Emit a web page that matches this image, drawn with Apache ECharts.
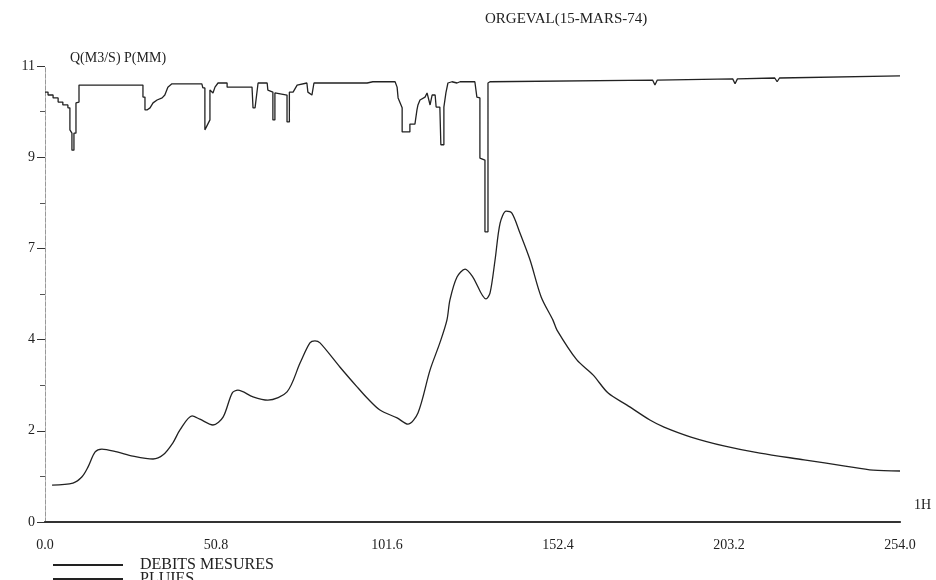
<!DOCTYPE html>
<html>
<head>
<meta charset="utf-8">
<title>ORGEVAL(15-MARS-74)</title>
<script src="https://cdn.jsdelivr.net/npm/echarts@6/dist/echarts.min.js"></script>
<style>
    html, body { margin: 0; padding: 0; background: #fff; }
    #main { width: 936px; height: 580px; }
</style>
</head>
<body>
<div id="main"></div>
<script>
    // temps en heures (1H) / debits en m3/s
    var debitsT = [2.1, 8.3, 11.0, 12.8, 14.9, 16.9, 21.4, 26.1, 32.1, 35.1, 38.0, 40.1, 43.7, 46.0, 49.9,
        52.9, 55.6, 57.3, 61.8, 66.2, 71.9, 75.8, 78.7, 80.2, 81.7, 87.6, 92.7, 95.7, 99.5, 104.6,
        107.8, 110.8, 114.4, 117.3, 119.4, 120.3, 122.4, 124.8, 127.1, 131.0, 132.2, 133.7, 135.2, 137.0, 138.7,
        141.1, 144.1, 147.4, 150.9, 152.1, 158.0, 162.8, 167.3, 172.9, 179.7, 183.9, 191.9, 202.0, 212.4,
        225.5, 237.7, 246.0, 254.0];
    var debitsQ = [0.89, 0.94, 1.09, 1.33, 1.69, 1.76, 1.69, 1.59, 1.52, 1.62, 1.91, 2.22, 2.56, 2.48, 2.34,
        2.53, 3.11, 3.18, 3.02, 2.94, 3.14, 3.84, 4.32, 4.37, 4.32, 3.74, 3.26, 2.99, 2.70, 2.51,
        2.36, 2.63, 3.67, 4.32, 4.87, 5.36, 5.91, 6.10, 5.91, 5.38, 5.52, 6.32, 7.21, 7.50, 7.45,
        6.97, 6.32, 5.43, 4.87, 4.63, 3.91, 3.55, 3.11, 2.82, 2.46, 2.29, 2.05, 1.83, 1.66,
        1.50, 1.35, 1.25, 1.23];

    // pluies (histogramme inverse, trace en escalier depuis le haut)
    var pluiesT = [0.0, 0.9, 0.9, 2.4, 2.4, 3.9, 3.9, 5.3, 5.3, 6.8, 6.8, 7.4, 7.4, 8.0, 8.0, 8.6, 8.6, 9.2, 9.2, 10.1, 10.1, 29.1,
        29.1, 29.7, 29.7, 30.3, 31.2, 32.1, 33.3, 34.8, 35.6, 36.5, 37.7, 46.6, 46.9,
        47.5, 47.5, 49.0, 49.0, 49.9, 50.5, 51.4, 54.1, 54.1, 61.5, 61.8,
        61.8, 62.4, 63.3, 66.0, 66.2, 67.7, 67.7, 68.3, 68.3, 71.9, 71.9, 72.6, 72.6, 73.7, 74.9, 77.8,
        78.1, 79.3, 79.9, 95.7, 96.0, 97.4,
        104.0, 104.6, 104.9, 106.1, 106.1, 108.4, 108.4, 109.9, 110.5, 110.8, 111.4, 112.9, 113.5, 113.8, 114.4,
        115.0, 115.9, 116.2, 117.3, 117.6, 118.5, 118.5, 119.1, 119.7, 120.9, 122.4, 123.3, 127.7, 128.3, 129.2,
        129.2, 130.7, 130.7, 131.6, 131.6, 132.2,
        180.5, 181.2, 181.9, 204.3, 205.0, 205.7, 216.8, 217.5, 218.2, 254.0];
    var pluiesP = [10.37, 10.37, 10.30, 10.30, 10.23, 10.23, 10.13, 10.13, 10.06, 10.06, 9.99, 9.99, 9.46, 9.38, 8.97, 8.97, 9.38, 9.38, 10.11, 10.13, 10.54, 10.54,
        10.25, 10.25, 9.94, 9.94, 9.99, 10.11, 10.18, 10.23, 10.30, 10.49, 10.57, 10.57, 10.47,
        10.47, 9.46, 9.70, 10.42, 10.35, 10.49, 10.59, 10.59, 10.49, 10.49, 10.47,
        9.99, 9.99, 10.59, 10.59, 10.42, 10.37, 9.70, 9.70, 10.35, 10.30, 9.65, 9.65, 10.37, 10.37, 10.54, 10.59,
        10.37, 10.30, 10.59, 10.59, 10.59, 10.62,
        10.62, 10.49, 10.23, 9.99, 9.41, 9.41, 9.60, 9.60, 9.94, 10.06, 10.18, 10.25, 10.35, 10.35, 10.06,
        10.30, 10.30, 10.01, 10.01, 9.10, 9.10, 10.01, 10.35, 10.59, 10.62, 10.59, 10.62, 10.62, 10.25, 10.23,
        8.78, 8.73, 7.00, 7.00, 10.59, 10.62,
        10.66, 10.54, 10.66, 10.69, 10.57, 10.69, 10.71, 10.62, 10.71, 10.76];

    var xTicks = [0, 50.8, 101.6, 152.4, 203.2, 254.0];
    var yMax = 11;
    var yStep = 2.2;

    var font = '"Liberation Serif", "DejaVu Serif", serif';
    var ink = '#222';

    function pairs(xs, ys) {
        var out = [];
        for (var i = 0; i < xs.length; i++) {
            out.push([xs[i], ys[i]]);
        }
        return out;
    }

    function legendAt(name, top) {
        return {
            left: 48,
            top: top,
            itemWidth: 70,
            itemHeight: 2,
            icon: 'rect',
            data: [name],
            textStyle: { fontFamily: font, fontSize: 16, color: ink, padding: [0, 0, 0, 12] }
        };
    }

    var option = {
        backgroundColor: '#fff',
        animation: false,
        title: {
            text: 'ORGEVAL(15-MARS-74)',
            left: 480,
            top: 7,
            textStyle: { fontFamily: font, fontSize: 15, fontWeight: 'normal', color: ink }
        },
        legend: [
            legendAt('DEBITS MESURES', 552),
            legendAt('PLUIES', 566)
        ],
        grid: {
            left: 45,
            right: 36,
            top: 66,
            bottom: 58
        },
        xAxis: [
            {
                type: 'value',
                min: 0,
                max: xTicks[xTicks.length - 1],
                interval: xTicks[1],
                name: '1H',
                nameLocation: 'end',
                nameGap: 14,
                nameTextStyle: { fontFamily: font, fontSize: 14, color: ink, verticalAlign: 'bottom', padding: [0, 0, 10, 0] },
                axisLine: { lineStyle: { color: '#333', width: 1.5 } },
                axisTick: { show: false },
                splitLine: { show: false },
                axisLabel: {
                    margin: 16,
                    fontFamily: font,
                    fontSize: 14,
                    color: ink,
                    formatter: function (v) { return v.toFixed(1); }
                }
            },
            {
                type: 'value',
                position: 'top',
                min: 0,
                max: xTicks[xTicks.length - 1],
                axisLine: { show: true, lineStyle: { color: '#333', width: 2 } },
                axisTick: { show: false },
                axisLabel: { show: false },
                splitLine: { show: false }
            }
        ],
        yAxis: [
            {
                type: 'value',
                min: 0,
                max: yMax,
                interval: yStep,
                name: 'Q(M3/S) P(MM)',
                nameLocation: 'end',
                nameGap: 1,
                nameTextStyle: { fontFamily: font, fontSize: 14, color: ink, align: 'left', padding: [0, 0, 0, 25] },
                axisLine: { show: true, lineStyle: { color: '#888', width: 1, type: 'dashed' } },
                axisTick: { show: true, length: 8, lineStyle: { color: '#333' } },
                minorTick: { show: true, splitNumber: 2, length: 5, lineStyle: { color: '#555' } },
                splitLine: { show: false },
                axisLabel: {
                    margin: 10,
                    fontFamily: font,
                    fontSize: 14,
                    color: ink,
                    formatter: function (v) { return Math.round(v); }
                }
            },
            {
                type: 'value',
                position: 'right',
                min: 0,
                max: yMax,
                axisLine: { show: true, lineStyle: { color: '#999', width: 1, type: 'dashed' } },
                axisTick: { show: false },
                axisLabel: { show: false },
                splitLine: { show: false }
            }
        ],
        series: [
            {
                name: 'DEBITS MESURES',
                type: 'line',
                data: pairs(debitsT, debitsQ),
                smooth: 0.3,
                showSymbol: false,
                color: ink,
                lineStyle: { color: ink, width: 1.3 }
            },
            {
                name: 'PLUIES',
                type: 'line',
                data: pairs(pluiesT, pluiesP),
                showSymbol: false,
                color: ink,
                lineStyle: { color: ink, width: 1.3 }
            }
        ]
    };

    var myChart = echarts.init(document.getElementById('main'));
    myChart.setOption(option);
</script>
</body>
</html>
